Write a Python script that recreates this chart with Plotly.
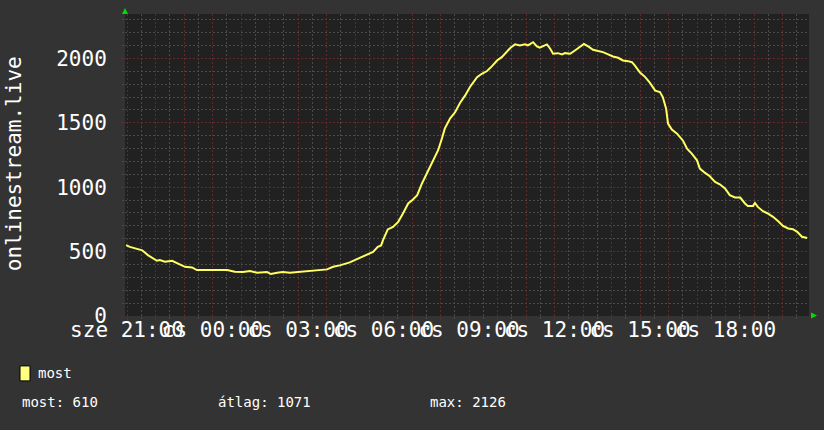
import plotly.graph_objects as go

# ---- data (minutes after Wed 21:00, viewers) ----
minutes_after_2100 = [
    -2, 6, 23, 32, 44, 63, 69, 80, 95, 107, 122, 137, 147, 168, 211, 227, 244, 259,
    274, 295, 303, 316, 328, 343, 358, 371, 389, 406, 421, 434, 448, 469, 484, 501,
    507, 518, 528, 535, 539, 549, 560, 571, 581, 592, 602, 611, 621, 632, 642, 648,
    655, 663, 669, 680, 691, 701, 712, 722, 737, 747, 758, 768, 779, 789, 800, 808,
    817, 827, 838, 844, 855, 863, 869, 876, 884, 891, 897, 907, 916, 922, 933, 943,
    954, 962, 971, 981, 992, 1002, 1013, 1023, 1034, 1044, 1055, 1063, 1069, 1080,
    1091, 1101, 1112, 1122, 1128, 1135, 1139, 1147, 1158, 1164, 1171, 1179, 1189,
    1200, 1206, 1217, 1227, 1238, 1248, 1259, 1269, 1280, 1291, 1301, 1307, 1318,
    1322, 1328, 1339, 1349, 1360, 1371, 1381, 1392, 1402, 1411, 1421, 1432,
]
viewers = [
    550, 537, 519, 510, 473, 429, 434, 421, 429, 408, 382, 377, 357, 357, 357, 344, 341, 349,
    336, 341, 326, 336, 341, 336, 341, 344, 351, 357, 362, 382, 393, 416, 440, 465,
    478, 498, 537, 548, 589, 672, 692, 731, 796, 874, 905, 938, 1029, 1111, 1184, 1222,
    1287, 1378, 1455, 1533, 1584, 1654, 1713, 1778, 1855, 1881, 1902, 1938, 1984, 2010, 2055, 2085,
    2109, 2101, 2109, 2101, 2126, 2093, 2083, 2093, 2109, 2075, 2036, 2041, 2031, 2041, 2036, 2062,
    2088, 2112, 2093, 2067, 2057, 2049, 2031, 2015, 2005, 1984, 1979, 1971, 1946, 1890,
    1855, 1810, 1750, 1739, 1700, 1610, 1494, 1447, 1416, 1385, 1359, 1300, 1261,
    1209, 1145, 1111, 1085, 1041, 1023, 990, 938, 920, 920, 874, 855, 855,
    878, 847, 814, 796, 770, 736, 700, 680, 674, 653, 615, 605,
]

hour_ticks = [60 * h for h in range(24)]
hour_labels = ["sze 21:00" if h == 0 else ("cs %02d:00" % ((21 + h) % 24) if h % 3 == 0 else "")
               for h in range(24)]
y_ticks = [0, 500, 1000, 1500, 2000]
y_labels = ["0", "500", "1000", "1500", "2000"]

series_name = "most"
stat_now, stat_avg, stat_max = 610, 1071, 2126

# ---- geometry helpers (pixels -> paper) ----
W, H = 824, 430
L, R, T, B = 125, 809, 13.5, 316
def px(x):
    return (x - L) / (R - L)
def py(y):
    return (B - y) / (B - T)

MONO = "DejaVu Sans Mono"
BG = "#333333"
PLOT_BG = "#212121"
MAJOR = "#622a2a"
MINOR = "#4a4a4a"
TXT = "#ffffff"

fig = go.Figure()
fig.add_trace(go.Scatter(
    x=minutes_after_2100, y=viewers, mode="lines",
    line=dict(color="#ffff62", width=2),
    hoverinfo="skip", showlegend=False,
))

fig.update_layout(
    width=W, height=H,
    margin=dict(l=L, r=W - R, t=T, b=H - B, autoexpand=False),
    paper_bgcolor=BG, plot_bgcolor=PLOT_BG,
    font=dict(family=MONO, color=TXT, size=21),
    showlegend=False,
    xaxis=dict(
        range=[-4.2, 1435.8], tickmode="array", tickvals=hour_ticks, ticktext=hour_labels,
        tickangle=0, showgrid=True, gridcolor=MAJOR, griddash="2px,2px", gridwidth=1,
        ticks="outside", ticklen=3, tickcolor=MAJOR,
        tickfont=dict(family=MONO, size=21, color=TXT),
        ticklabelstandoff=-8,
        zeroline=False, showline=False,
        minor=dict(dtick=30, tick0=0, showgrid=True, gridcolor=MINOR, griddash="2px,2px",
                   ticks="outside", ticklen=2, tickcolor=MINOR),
        fixedrange=True,
    ),
    yaxis=dict(
        range=[0, 2345], tickmode="array", tickvals=y_ticks, ticktext=y_labels,
        showgrid=True, gridcolor=MAJOR, griddash="2px,2px", gridwidth=1,
        ticks="outside", ticklen=3, tickcolor=MAJOR,
        tickfont=dict(family=MONO, size=21, color=TXT),
        ticklabelstandoff=10,
        zeroline=False, showline=False,
        minor=dict(dtick=100, tick0=0, showgrid=True, gridcolor=MINOR, griddash="2px,2px",
                   ticks="outside", ticklen=2, tickcolor=MINOR),
        fixedrange=True,
    ),
)

# y-axis title
fig.add_annotation(text="onlinestream.live", xref="paper", yref="paper",
                   x=px(14), y=py(164), textangle=-90, showarrow=False,
                   xanchor="center", yanchor="middle",
                   font=dict(family=MONO, size=21, color=TXT))

# legend swatch + label
fig.add_shape(type="rect", xref="paper", yref="paper",
              x0=px(20), x1=px(30), y0=py(381), y1=py(366),
              fillcolor="#ffff80", line=dict(color="#000000", width=1))
fig.add_annotation(text=series_name, xref="paper", yref="paper", x=px(36), y=py(373.5),
                   xanchor="left", yanchor="middle", showarrow=False,
                   font=dict(family=MONO, size=14, color=TXT))
for label, val, xp in [("most", stat_now, 20), ("átlag", stat_avg, 216), ("max", stat_max, 428)]:
    fig.add_annotation(text=f"{label}: {val}", xref="paper", yref="paper", x=px(xp), y=py(402),
                       xanchor="left", yanchor="middle", showarrow=False,
                       font=dict(family=MONO, size=14, color=TXT))

# green axis arrows
fig.add_shape(type="path", xref="paper", yref="paper",
              path=f"M {px(122)} {py(13.5)} L {px(128)} {py(13.5)} L {px(125)} {py(7.5)} Z",
              fillcolor="#00dd00", line=dict(width=0))
fig.add_shape(type="path", xref="paper", yref="paper",
              path=f"M {px(811)} {py(312.5)} L {px(811)} {py(318.5)} L {px(817)} {py(315.5)} Z",
              fillcolor="#00dd00", line=dict(width=0))

fig.write_html("out.html", config={"displayModeBar": False},
               post_script="document.body.style.margin='0';document.body.style.padding='0';")
